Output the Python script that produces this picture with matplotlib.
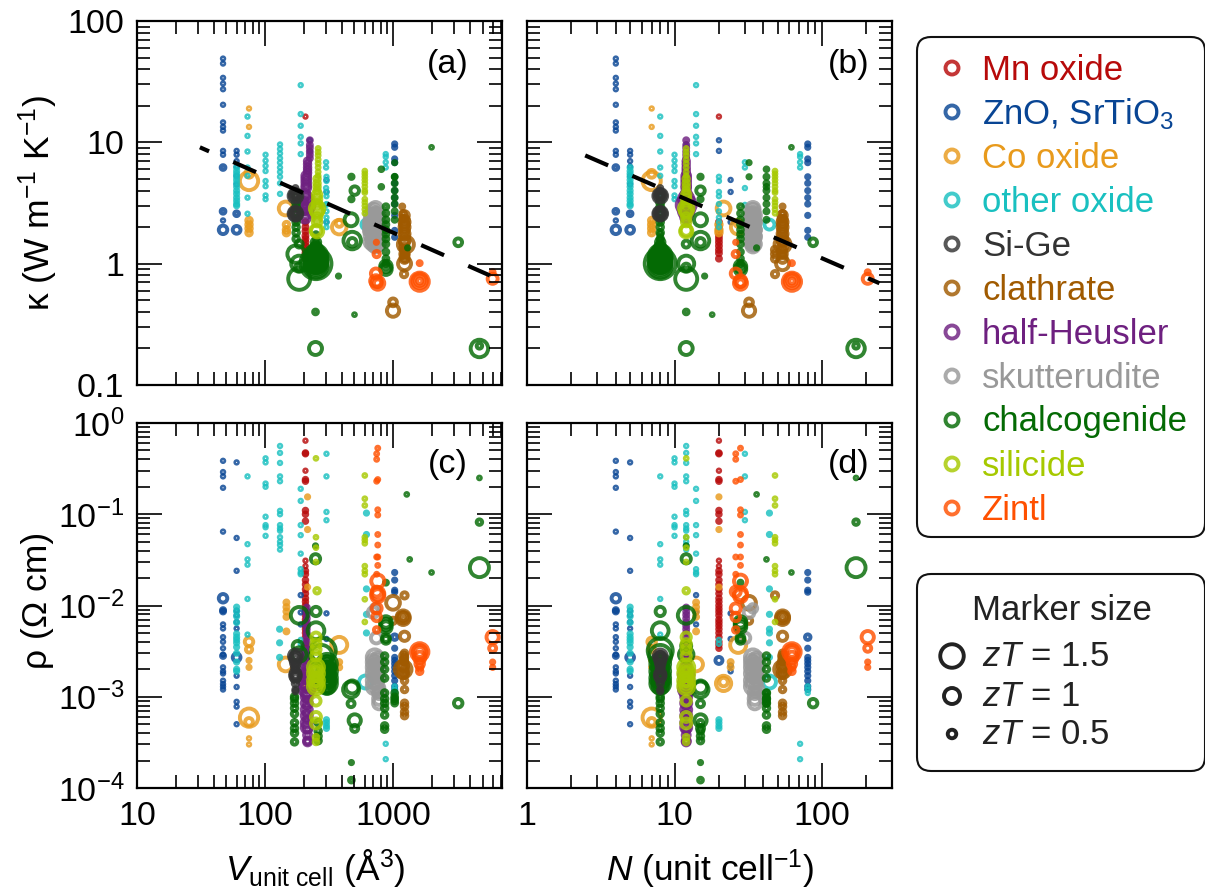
import matplotlib
matplotlib.use("Agg")
import matplotlib.pyplot as plt
from matplotlib.patches import FancyBboxPatch

plt.rcParams['font.family'] = ['Liberation Sans', 'DejaVu Sans']
plt.rcParams['mathtext.fontset'] = 'custom'
plt.rcParams['mathtext.rm'] = 'Liberation Sans'
plt.rcParams['mathtext.it'] = 'Liberation Sans:italic'
plt.rcParams['mathtext.bf'] = 'Liberation Sans:bold'
plt.rcParams['lines.scale_dashes'] = False

# each class: one entry per column of points, V, N, zT for the column and then y values
# Mn oxide
mn_top_V = [207, 207]
mn_top_N = [20, 20]
mn_top_zT = [.1, .2]
mn_kappa = [[16.3], [2.2, 2.0, 1.85, 1.7, 1.6, 1.5, 1.4, 1.3, 1.22, 1.1]]
mn_bot_V = [207, 207]
mn_bot_N = [20, 20]
mn_bot_zT = [.1, .17]
mn_rho = [[.64, .30, .031, .027], [.47, .46, .24, .23, .11, .10, .084, .024, .022, .019, .017, .015, .0135, .012,
                                    .011, .01, .0092, .0085, .0078, .007, .0065, .006, .0055, .005, .0045, .004, .0037, .0034]]

# ZnO, SrTiO3
zno_top_V = [47, 47, 47, 60, 60, 60, 1030, 224, 302]
zno_top_N = [4, 4, 4, 5, 5, 5, 80, 20, 24]
zno_top_zT = [.1, .25, .5, .1, .25, .45, .15, .1, .1]
zno_kappa = [[49, 44.6, 34, 30.5, 27.4, 20.4, 14.6, 13.4, 12.5, 8.5, 7.9, 2.27], [6.2, 2.7], [1.9],
             [8.5, 7.9, 7, 6.3, 5.3, 4.5], [2.58], [1.9],
             [9.7, 9.1, 7.3, 6.8, 5.2, 4.6, 4, 3.5, 3.1, 2.5, 1.88, 1.65], [10.4, 8.5], [4.9, 3.9, 2.2]]
zno_bot_V = [47, 47, 47, 60, 60, 1030, 1030, 302, 190, 224]
zno_bot_N = [4, 4, 4, 5, 5, 80, 80, 24, 14, 20]
zno_bot_zT = [.1, .2, .5, .1, .45, .15, .3, .1, .1, .4]
zno_rho = [[.385, .29, .26, .195, .0645, .0062, .0056, .0045, .004, .0034, .0029, .0021, .0019, .0018, .0015, .00138, .00129, .0012],
           [.0089, .0086, .0028], [.012],
           [.37, .055, .024, .0088, .0078, .0066, .0056, .0017, .00128, .00088, .00078, .0005], [.0027],
           [.023, .019, .0147, .014, .0034, .0027, .0025, .0023, .0021, .0019, .0017, .0015, .0013, .0012], [.0045],
           [.0082, .0043, .0022, .0019], [.013, .0084, .0062], [.0025]]

# Co oxide
co_top_V = [75, 75, 75, 75, 147, 145, 380, 380]
co_top_N = [7, 7, 7, 7, 20, 21.5, 27, 27]
co_top_zT = [.1, .3, 1.15, .45, .3, .85, .9, .4]
co_kappa = [[19, 13.4], [2.27, 2.1, 1.95, 1.8], [4.8], [5.5], [2.1, 1.9, 1.8], [2.85], [2.0], [2.15]]
co_bot_V = [75, 75, 75, 75, 75, 75, 147, 145, 215, 380, 380, 230, 230]
co_bot_N = [7, 7, 7, 7, 7, 7, 14, 14, 20, 27, 24, 21.5, 21.5]
co_bot_zT = [.1, .15, .35, .5, 1.15, .45, .2, .85, .15, 1.0, .2, .95, .5]
co_rho = [[.00035, .0003], [.0025, .0021], [.0033], [.004], [.00059], [.00053], [.0108, .0096, .0086, .0075, .0052],
          [.00226], [.155, .068, .0159], [.0037], [.0024, .0021], [.0014], [.00145]]

# other oxide
ox_top_V = [190, 73, 101, 131, 60, 302, 300, 877, 620]
ox_top_N = [14, 8, 10, 12, 5, 20, 30, 71, 44]
ox_top_zT = [.1, .1, .1, .1, .15, .1, .1, .1, .6]
ox_kappa = [[29.6, 17.1, 13.7, 11.1, 9.8, 8], [16.3, 11.3, 8.4, 6.2, 5.3, 3.5, 2.58],
            [7.9, 7.07, 6.4, 5.8, 4.8, 4.35, 3.65, 3.4],
            [9.6, 8.8, 8.1, 7.4, 6.8, 6.2, 5.7, 5.2, 4.6, 3.76],
            [6.2, 5.8, 5.5, 5.2, 4.9, 4.6, 4.3, 4.0, 3.76, 3.5, 3.3, 3.1, 3.0],
            [5.2, 4.8, 3.9, 3.6, 3.1, 2.7, 2.4, 2.2, 2.0], [6.85, 6.2, 4.2, 3.05], [8, 7.6, 6.85, 6.2], [2.1]]
ox_bot_V = [101, 131, 190, 302, 73, 60, 620, 877, 130, 610, 302, 190, 1030]
ox_bot_N = [10, 12, 14, 30, 8, 5, 44, 71, 44, 44, 20, 20, 80]
ox_bot_zT = [.1, .1, .1, .1, .1, .15, .15, .1, .15, .8, .15, .1, .1]
ox_rho = [[.41, .37, .217, .2, .094, .076, .072, .058],
          [.56, .47, .365, .26, .23, .109, .1, .076, .07, .066, .056, .05, .046, .041],
          [.19, .14, .076, .059, .037, .025, .023, .022],
          [.46, .26, .106, .086], [.26, .047, .032, .028, .0118, .0048],
          [.0096, .0086, .0076, .0065, .0049, .0045, .0042, .0039, .0035, .003, .0024, .002, .0019],
          [.103, .06, .0152, .008, .005], [.000305, .000207], [.0055, .0039, .0027], [.00145],
          [.00056, .00052, .00048, .00045], [.0042, .0038], [.0013, .0012, .0011]]

# Si-Ge
sg_top_V = [173, 173, 173, 173, 173, 173, 173, 173, 173]
sg_top_N = [8, 8, 8, 8, 8, 8, 8, 8, 8]
sg_top_zT = [.2, .3, .5, .7, .85, .35, .55, .75, .85]
sg_kappa = [[4.2, 3.95], [3.75, 3.65], [3.7], [3.65], [3.62], [2.7, 2.55], [2.6], [2.58], [2.58]]
sg_bot_V = [173, 173, 173, 173, 173, 173, 173, 173]
sg_bot_N = [8, 8, 8, 8, 8, 8, 8, 8]
sg_bot_zT = [.8, .6, .5, .4, .3, .22, .65, .45]
sg_rho = [[.0028], [.0025, .0018], [.0023, .0016], [.0021], [.0020, .0014], [.0012, .00115], [.0027, .0017], [.0028, .0017]]

# clathrate
cl_top_V = [1180, 1200, 1230, 1260, 1230, 1230, 1220, 1000, 1000, 1240, 1230]
cl_top_N = [54, 54, 54, 54, 54, 54, 48, 32, 32, 48, 54]
cl_top_zT = [.2, .3, .6, 1.0, .8, .35, .35, .45, .75, .35, .5]
cl_kappa = [[2.96], [2.58, 2.35], [2.2, 2.0, 1.76, 1.55], [1.44], [1.0], [1.3, 1.2], [.82], [.48], [.41], [1.3, 1.2, 1.1],
            [2.5, 2.3, 2.1, 1.9, 1.7, 1.5, 1.35, 1.2, 1.1]]
cl_bot_V = [1230, 1200, 1200, 1200, 1000, 1230, 1200, 1200, 1230, 1210, 1000]
cl_bot_N = [48, 54, 54, 54, 32, 54, 54, 54, 54, 54, 32]
cl_bot_zT = [.35, .8, .5, .25, .85, .55, 1.05, .6, .3, .4, .35]
cl_rho = [[.0129], [.0075, .0072], [.0075], [.0072], [.0107], [.0046], [.002], [.0022, .002, .0018],
          [.003, .0027, .0024, .002, .0018, .0015, .0012, .00085, .00078, .00068, .00062], [.0028, .0025], [.0068]]

# half-Heusler
hh_top_V = [224, 215, 210, 205, 205, 205, 205, 205]
hh_top_N = [12, 12, 12, 12, 12, 12, 12, 12]
hh_top_zT = [.2, .3, .45, .6, .9, 1.2, .3, .6]
hh_kappa = [[10.4, 9.5, 9, 8.4, 7.9, 7.4], [7, 6.6, 6.2, 5.9, 5.6], [5.3, 5, 4.7, 4.4, 4.2], [3.7, 2.4], [3.4, 2.7], [3.05],
            [3.3, 3, 2.7], [3.1, 2.9]]
hh_bot_V = [212, 210, 212, 212, 212, 212, 215]
hh_bot_N = [12, 12, 12, 12, 12, 12, 12]
hh_bot_zT = [.2, .35, .5, .9, .6, .3, .4]
hh_rho = [[.0095, .0086, .0079, .0072, .0065, .006, .0055, .005, .0045, .004],
          [.0036, .0032, .003, .0028, .0026, .0024], [.0022, .002, .0018, .0016],
          [.0017, .0014, .0012], [.0016, .0013, .0011, .001, .00085, .00072, .00062, .00052, .00046],
          [.0015, .0012, .00095, .0008, .00066, .00056], [.00044, .00038, .00033, .00032]]

# skutterudite
sk_top_V = [640, 670, 700, 730, 770, 800, 670, 700, 730, 770, 700, 730]
sk_top_N = [32, 33, 34, 34, 35, 36, 33, 34, 34, 35, 34, 34]
sk_top_zT = [.5, .75, .8, .8, .75, .5, .45, .5, .5, .45, .2, .2]
sk_kappa = [[2.2, 2, 1.85], [2.55, 2.3, 2.1, 1.9, 1.7, 1.5], [2.75, 2.5, 2.25, 2, 1.8, 1.6, 1.45],
            [2.85, 2.55, 2.3, 2, 1.75, 1.55, 1.4], [2.5, 2.2, 1.9, 1.65, 1.45], [2.2, 1.9, 1.7],
            [2.4, 2.2, 2, 1.8, 1.6], [2.6, 2.35, 2.1, 1.9, 1.7], [2.7, 2.4, 2.15, 1.85, 1.65], [2.35, 2.05, 1.75],
            [2.6, 2.2, 1.9, 1.6], [2.5, 2.1, 1.8, 1.5]]
sk_bot_V = [740, 725, 700, 720, 760, 780, 720, 760, 740]
sk_bot_N = [30, 34, 32, 34, 36, 35, 34, 36, 35]
sk_bot_zT = [.65, .5, .65, 1.0, .8, .75, .55, .45, .2]
sk_rho = [[.0044], [.0093], [.0084], [.0027, .0024, .0021, .0018, .0015, .0013], [.0026, .002, .0016, .00125],
          [.0011, .00095, .00085], [.0025, .0022, .0019, .0016, .0014], [.0024, .0018, .0014, .0011],
          [.0026, .0023, .002, .0017, .0015, .0012]]

# chalcogenide
ch_top_V = [250, 250, 250, 250, 250, 250, 250, 185, 185, 185, 185, 175, 502, 473, 470, 480, 480, 248, 248, 500, 375, 2000, 3230, 4730, 4730,
            810, 880, 880, 1030, 1030, 1300, 175, 175]
ch_top_N = [8, 8, 8, 8, 8, 8, 8, 12, 12, 12, 12, 8, 15, 15, 15, 15, 15, 12, 12, 18, 16, 62, 87, 170, 170,
            42, 28, 28, 42, 32, 36, 8, 8]
ch_top_zT = [2.0, 1.45, 1.1, .8, .5, .2, 1.3, 1.4, 1.0, .45, .4, .3, .5, .22, .8, 1.1, .5, .8, .25, .12, .15, .12, .45, 1.1, .3,
             .18, .25, .7, .2, .15, .15, .35, 1.1]
ch_kappa = [[1.0], [1.15, 1.05, 1.0, .95], [1.2, 1.1, 1.05, .98], [1.3, 1.25, 1.12, 1.02, .98], [1.5, 1.4, 1.28, 1.18, 1.08, 1.0, .95],
            [1.75, 1.6, 1.42, 1.3, 1.15, 1.05, .92], [1.12, 1.02], [.75], [1.0], [.93], [1.45], [2.0, 2.2, 2.35, 1.8, 1.6], [4], [5.2, 3.4], [2.3],
            [1.55], [1.5], [.2], [.4], [.38], [.79], [9.1], [1.5], [.2], [.21], [6, 4.3],
            [2.95, 2.6, 2.3, 2.1, 1.9, 1.75, 1.6, 1.45, 1.25, 1.1, 1.0, .95], [.95, .9],
            [5.2, 4.6, 4, 3.5, 3.1, 2.7, 2.3], [6.8, 5.2], [1.35], [3.6, 3.2, 2.9, 2.6], [1.2]]
ch_bot_V = [185, 250, 250, 185, 285, 275, 305, 305, 305, 305, 248, 248, 4730, 4730, 4730, 1280, 2000, 1350, 3230, 473, 473, 470, 480, 470,
            502, 502, 880, 880, 880, 860, 1030, 170, 260, 180]
ch_bot_N = [12, 8, 8, 12, 8, 8, 8, 8, 8, 8, 12, 12, 170, 170, 170, 36, 62, 42, 87, 15, 15, 15, 15, 15,
            15, 15, 28, 28, 28, 42, 42, 8, 15, 12]
ch_bot_zT = [1.05, .55, 1.05, .9, 1.6, 1.4, 1.25, .95, .65, .35, .55, .15, .12, .3, 1.2, .12, .12, .12, .5, .15, .25, 1.0, .8, .4,
             .75, .4, .2, .7, .45, .3, .25, .3, .3, .6]
ch_rho = [[.0078], [.0086], [.0053], [.0029], [.0032], [.0028], [.0023, .0019, .0016, .0014], [.0023, .002, .0017, .0015, .0013],
          [.0024, .0021, .0019, .0017, .0015, .0013], [.0024, .0022, .002, .0018, .0016, .0014, .0012], [.0325], [.045], [.25], [.082], [.026],
          [.165], [.023], [.032], [.00085], [.00019], [.000122], [.0012], [.00128], [.00084], [.00055], [.00045],
          [.0178], [.0066, .0062, .0058], [.0044, .0042],
          [.0028, .0024, .002, .0016, .0011, .00095, .00085, .00075, .00063, .00048, .00044], [.0011, .001, .00095, .0009, .00085],
          [.001, .00095, .00085, .00075, .00065, .00052, .00045, .0004, .00032], [.00052, .00042, .00037, .00033], [.0036]]

# silicide
si_top_V = [260, 255, 255, 255, 250, 255, 602, 602, 255, 255]
si_top_N = [12, 12, 12, 12, 12, 12, 48, 48, 12, 12]
si_top_zT = [.13, .3, .5, .75, .65, .75, .12, .12, .9, .5]
si_kappa = [[8.9, 8.3, 7.8, 7.2, 6.7, 6.2, 5.7, 5.3], [5, 4.6, 4.3, 4.0], [3.7, 3.4, 3.1, 2.9], [2.7], [1.88], [1.85],
            [5.8, 5.5, 5.2, 4.9, 4.6, 4.3, 4, 3.85], [3.4, 3.2, 3, 2.8, 2.6], [2.85], [2.4, 2.2]]
si_bot_V = [250, 250, 255, 602, 602, 250, 250, 250, 250, 250, 250, 250]
si_bot_N = [12, 12, 12, 48, 48, 12, 12, 12, 12, 12, 12, 12]
si_bot_zT = [.12, .12, .3, .12, .12, .55, 1.0, .65, .3, .55, .6, .25]
si_rho = [[.41], [.056, .043, .03], [.0145], [.266, .148, .125, .056, .052, .048, .027, .024, .022], [.0117, .0066],
          [.0045, .0038, .0033, .0028], [.0021, .0018, .0015, .0013], [.0021, .0018, .0015, .0013], [.002, .0016, .0014],
          [.0009], [.0006, .00051], [.00036, .00032]]

# Zintl
zi_top_V = [741, 745, 735, 760, 760, 735, 1615, 1615, 1615, 1615, 1615, 6000, 6000]
zi_top_N = [26, 26, 26, 28, 28, 28, 62.5, 62.5, 62.5, 62.5, 62.5, 204, 204]
zi_top_zT = [.15, .35, .6, .8, .45, .7, 1.15, .9, .6, .3, .2, .6, .2]
zi_kappa = [[1.5], [1.2], [.83], [.69], [.69], [.72], [.71], [.72], [.72], [.72], [1.01], [.75], [.85]]
zi_bot_V = [760, 745, 760, 745, 760, 760, 745, 745, 745, 1615, 1615, 1615, 1615, 1615, 1615, 6000, 6000, 6000]
zi_bot_N = [28, 26, 28, 26, 28, 28, 26, 26, 26, 62.5, 62.5, 62.5, 62.5, 62.5, 62.5, 204, 204, 204]
zi_bot_zT = [.13, .13, .8, .6, .8, .8, .6, .5, .3, 1.1, .85, .6, .7, .5, .3, .75, .4, .15]
zi_rho = [[.53, .24, .112, .098, .06, .046, .034, .0275], [.46, .4, .23, .034, .022], [.0185], [.0142], [.0135], [.0128], [.0093], [.0075], [.0054],
          [.0031], [.0031], [.0031], [.0027], [.0023], [.0021, .0019], [.0045], [.0034], [.0024, .0021]]

# class colours
mn_col = '#B70A0A'
zno_col = '#084594'
co_col = '#E89A1C'
ox_col = '#19C0C0'
sg_col = '#333333'
cl_col = '#A05A00'
hh_col = '#6E2080'
sk_col = '#999999'
ch_col = '#046A04'
si_col = '#A6C900'
zi_col = '#FF5000'

legend_names = ['Mn oxide', 'ZnO, SrTiO$_3$', 'Co oxide', 'other oxide', 'Si-Ge', 'clathrate', 'half-Heusler',
                'skutterudite', 'chalcogenide', 'silicide', 'Zintl']
legend_cols = [mn_col, zno_col, co_col, ox_col, sg_col, cl_col, hh_col, sk_col, ch_col, si_col, zi_col]
size_zT = [1.5, 1, 0.5]
size_labels = ['$zT$ = 1.5', '$zT$ = 1', '$zT$ = 0.5']

# fit line through the kappa panels
fit_V = [31, 5700]
fit_N = [2.48, 245]
fit_kappa_a = [9.1, .8]
fit_kappa_b = [7.8, .69]

top_sets = [(mn_top_V, mn_top_N, mn_top_zT, mn_kappa, mn_col), (zno_top_V, zno_top_N, zno_top_zT, zno_kappa, zno_col),
            (co_top_V, co_top_N, co_top_zT, co_kappa, co_col), (ox_top_V, ox_top_N, ox_top_zT, ox_kappa, ox_col),
            (cl_top_V, cl_top_N, cl_top_zT, cl_kappa, cl_col), (hh_top_V, hh_top_N, hh_top_zT, hh_kappa, hh_col),
            (sk_top_V, sk_top_N, sk_top_zT, sk_kappa, sk_col), (ch_top_V, ch_top_N, ch_top_zT, ch_kappa, ch_col),
            (sg_top_V, sg_top_N, sg_top_zT, sg_kappa, sg_col), (si_top_V, si_top_N, si_top_zT, si_kappa, si_col),
            (zi_top_V, zi_top_N, zi_top_zT, zi_kappa, zi_col)]
bot_sets = [(mn_bot_V, mn_bot_N, mn_bot_zT, mn_rho, mn_col), (zno_bot_V, zno_bot_N, zno_bot_zT, zno_rho, zno_col),
            (co_bot_V, co_bot_N, co_bot_zT, co_rho, co_col), (ox_bot_V, ox_bot_N, ox_bot_zT, ox_rho, ox_col),
            (cl_bot_V, cl_bot_N, cl_bot_zT, cl_rho, cl_col), (hh_bot_V, hh_bot_N, hh_bot_zT, hh_rho, hh_col),
            (sk_bot_V, sk_bot_N, sk_bot_zT, sk_rho, sk_col), (ch_bot_V, ch_bot_N, ch_bot_zT, ch_rho, ch_col),
            (sg_bot_V, sg_bot_N, sg_bot_zT, sg_rho, sg_col), (si_bot_V, si_bot_N, si_bot_zT, si_rho, si_col),
            (zi_bot_V, zi_bot_N, zi_bot_zT, zi_rho, zi_col)]

W, H = 1205, 896
fs = 24.5
ring_lw = 2.8
fig = plt.figure(figsize=(W / 100, H / 100), dpi=100)


def marker_size(zt):
    # ring diameter in pixels grows with zT, scatter wants points squared
    return ((15 * zt + 1) * .72) ** 2


def make_axes(x0, y0, x1, y1):
    return fig.add_axes([x0 / W, 1 - y1 / H, (x1 - x0) / W, (y1 - y0) / H])


def draw_groups(ax, sets, which):
    for s in sets:
        xs = s[which]
        for x, zt, ys in zip(xs, s[2], s[3]):
            ax.scatter([x] * len(ys), ys, s=marker_size(zt), facecolors='none', edgecolors=s[4],
                       linewidths=ring_lw, alpha=.82, clip_on=True)


def style_axes(ax):
    ax.set_xscale('log')
    ax.set_yscale('log')
    ax.tick_params(which='major', direction='in', top=True, right=True, length=18, width=1.2, labelsize=fs, pad=9)
    ax.tick_params(which='minor', direction='in', top=True, right=True, length=9.5, width=1.2)
    for sp in ax.spines.values():
        sp.set_linewidth(1.6)


ax_a = make_axes(137, 21, 502, 385)
ax_b = make_axes(527, 21, 892, 385)
ax_c = make_axes(137, 423, 502, 788)
ax_d = make_axes(527, 423, 892, 788)

draw_groups(ax_a, top_sets, 0)
draw_groups(ax_b, top_sets, 1)
draw_groups(ax_c, bot_sets, 0)
draw_groups(ax_d, bot_sets, 1)

ax_a.plot(fit_V, fit_kappa_a, color='k', lw=3, ls=(10.8, (18, 19)), dash_capstyle='butt', zorder=5)
ax_b.plot(fit_N, fit_kappa_b, color='k', lw=3, ls=(0, (18, 19)), dash_capstyle='butt', zorder=5)

for ax in [ax_a, ax_b, ax_c, ax_d]:
    style_axes(ax)
for ax in [ax_a, ax_c]:
    ax.set_xlim(10, 7100)
    ax.set_xticks([10, 100, 1000])
for ax in [ax_b, ax_d]:
    ax.set_xlim(1, 298)
    ax.set_xticks([1, 10, 100])
for ax in [ax_a, ax_b]:
    ax.set_ylim(.1, 100)
    ax.set_yticks([.1, 1, 10, 100])
    ax.set_xticklabels([])
for ax in [ax_c, ax_d]:
    ax.set_ylim(1e-4, 1)
    ax.set_yticks([1e-4, 1e-3, 1e-2, 1e-1, 1])
ax_a.set_yticklabels(['0.1', '1', '10', '100'])
ax_c.set_yticklabels(['10$^{-4}$', '10$^{-3}$', '10$^{-2}$', '10$^{-1}$', '10$^{0}$'])
ax_b.set_yticklabels([])
ax_d.set_yticklabels([])
ax_c.set_xticklabels(['10', '100', '1000'])
ax_d.set_xticklabels(['1', '10', '100'])
for ax in [ax_a, ax_b, ax_c, ax_d]:
    ax.xaxis.set_minor_formatter(matplotlib.ticker.NullFormatter())
    ax.yaxis.set_minor_formatter(matplotlib.ticker.NullFormatter())

ax_a.text(.852, .88, '(a)', transform=ax_a.transAxes, fontsize=fs, ha='center', va='center')
ax_b.text(.882, .88, '(b)', transform=ax_b.transAxes, fontsize=fs, ha='center', va='center')
ax_c.text(.852, .885, '(c)', transform=ax_c.transAxes, fontsize=fs, ha='center', va='center')
ax_d.text(.882, .885, '(d)', transform=ax_d.transAxes, fontsize=fs, ha='center', va='center')

# overlay in pixel coordinates for axis titles and the two boxes on the right
over = fig.add_axes([0, 0, 1, 1], zorder=10)
over.set_xlim(0, W)
over.set_ylim(H, 0)
over.axis('off')
over.patch.set_alpha(0)

over.text(38, 203, '\u03ba (W m$^{-1}$ K$^{-1}$)', rotation=90, fontsize=25.5, ha='center', va='center')
over.text(38, 600, '\u03c1 (\u03a9 cm)', rotation=90, fontsize=25.5, ha='center', va='center')
over.text(315, 869, '$V_{\\mathrm{unit\\ cell}}$ (\u00c5$^3$)', fontsize=25.5, ha='center', va='center')
over.text(710, 869, '$N$ (unit cell$^{-1}$)', fontsize=25.5, ha='center', va='center')

for y0, y1 in [(37, 537), (574, 771)]:
    over.add_patch(FancyBboxPatch((931, y0 + 14), 260, y1 - y0 - 28, boxstyle='round,pad=14,rounding_size=14',
                                  fc='white', ec='#111111', lw=1.5, clip_on=False))

for i, (name, col) in enumerate(zip(legend_names, legend_cols)):
    y = 68 + i * 44
    over.scatter([952], [y], s=marker_size(.8), facecolors='none', edgecolors=col, linewidths=ring_lw, alpha=.82)
    over.text(982, y + 2, name, color=col, fontsize=25, ha='left', va='center')

over.text(1062, 610, 'Marker size', fontsize=25, ha='center', va='center', color='#222222')
for zt, lab, y in zip(size_zT, size_labels, [656, 696, 734]):
    over.scatter([952], [y], s=marker_size(zt), facecolors='none', edgecolors='#222222', linewidths=ring_lw)
    over.text(982, y, lab, fontsize=25, ha='left', va='center', color='#222222')

fig.savefig('out.png', dpi=100)
